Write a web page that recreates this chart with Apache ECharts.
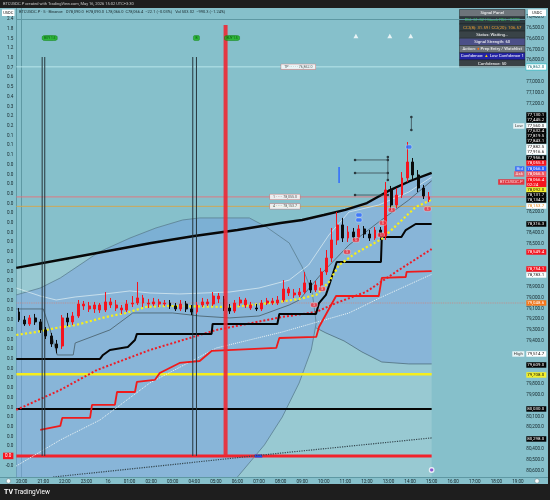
<!DOCTYPE html>
<html>
<head>
<meta charset="utf-8">
<title>BTCUSDC.P 5m</title>
<script src="https://cdn.jsdelivr.net/npm/echarts@6/dist/echarts.min.js"></script>
<style>
  html, body { margin: 0; padding: 0; background: #1e1e1e; }
  #chart { width: 550px; height: 500px; }
</style>
</head>
<body>
<div id="chart"></div>
<script>
// ---------- data: x = hours after 20:00 (15th), y = price in USDC ----------
const hourLabels = ['20:00', '21:00', '22:00', '23:00', '16', '01:00', '02:00', '03:00', '04:00', '05:00',
  '06:00', '07:00', '08:00', '09:00', '10:00', '11:00', '12:00', '13:00', '14:00', '15:00',
  '16:00', '17:00', '18:00', '19:00']

// 15 minute candles, first one centred at 19:52 -> [open, close, low, high]
const candleStart = -0.125
const candleStep = 0.25
const candles = [
  [79132, 79206, 79095, 79224], [79206, 79243, 79169, 79261], [79243, 79187, 79160, 79261], [79187, 79224, 79150, 79252],
  [79224, 79298, 79197, 79326], [79298, 79354, 79271, 79382], [79354, 79428, 79326, 79456], [79428, 79465, 79391, 79515],
  [79447, 79187, 79160, 79474], [79187, 79224, 79141, 79261], [79224, 79169, 79132, 79252], [79169, 79058, 79021, 79187],
  [79076, 79058, 79030, 79113], [79104, 79076, 79039, 79132], [79104, 79067, 79039, 79141], [79113, 79067, 79049, 79141],
  [79113, 79039, 78947, 79132], [79067, 79039, 79002, 79095], [79095, 79067, 79021, 79123], [79113, 79095, 79067, 79150],
  [79113, 79058, 79021, 79132], [79058, 79049, 78984, 79086], [79049, 79002, 78854, 79067], [79049, 79002, 78974, 79086],
  [79058, 79049, 79011, 79095], [79058, 79039, 79002, 79076], [79058, 79039, 79011, 79086], [79058, 79049, 79021, 79076],
  [79049, 79076, 79021, 79104], [79076, 79104, 79049, 79123], [79104, 79058, 79021, 79123], [79058, 79104, 79030, 79132],
  [79104, 79132, 79067, 79160], [79132, 79067, 79039, 79150], [79067, 79039, 79002, 79086], [79058, 79039, 79011, 79076],
  [79058, 78984, 78947, 79076], [79011, 78984, 78956, 79049], [79011, 79095, 78984, 79123], [79095, 79123, 79058, 79150],
  [79123, 79049, 79021, 79141], [79049, 79021, 78993, 79076], [79067, 79021, 79002, 79095], [79095, 79067, 79039, 79113],
  [79095, 79104, 79058, 79123], [79104, 79049, 79021, 79123], [79049, 79030, 79002, 79067], [79049, 79030, 79002, 79067],
  [79049, 79021, 78984, 79067], [79021, 78919, 78836, 79039], [78956, 78919, 78900, 78984], [78974, 78956, 78919, 79002],
  [78974, 78947, 78910, 78993], [78947, 78863, 78761, 78965], [78863, 78928, 78836, 78956], [78928, 78882, 78845, 78947],
  [78882, 78761, 78724, 78900], [78761, 78632, 78558, 78789], [78632, 78465, 78354, 78669], [78465, 78326, 78206, 78511],
  [78326, 78447, 78261, 78484], [78447, 78391, 78336, 78484], [78391, 78437, 78354, 78465], [78437, 78363, 78326, 78465],
  [78363, 78410, 78336, 78447], [78410, 78447, 78373, 78474], [78447, 78373, 78345, 78465], [78373, 78428, 78345, 78465],
  [78428, 78002, 77928, 78465], [78002, 78141, 77965, 78187], [78141, 78049, 77984, 78169], [78049, 77891, 77836, 78076],
  [77891, 77743, 77558, 77928], [77743, 77863, 77706, 77910], [77863, 77984, 77817, 78021], [77984, 78058, 77956, 78086],
  [78090, 78066, 78021, 78113]
]

const trendCurve = [[-0.25, 78724], [2, 78641], [4, 78567], [6, 78493], [8, 78428], [10, 78373], [12, 78308],
  [13, 78280], [14, 78234], [15, 78187], [16, 78123], [17, 78011], [18, 77919], [19, 77843]]
const supportStep = [[-0.25, 79567], [3.63, 79567], [3.77, 79530], [4.09, 79484], [4.92, 79456], [5.25, 79391],
  [5.34, 79335], [8.8, 79335], [8.85, 79243], [11.85, 79243], [11.94, 79150], [13.64, 79150], [13.78, 79049],
  [14.1, 78974], [14.24, 78891], [14.6, 78669], [16.65, 78669], [16.69, 78437], [17.6, 78437], [17.8, 78373],
  [18.26, 78317], [19, 78317]]
const redStep = [[0.86, 80224], [1.79, 80187], [1.88, 80113], [3.17, 80113], [3.26, 79993], [4.32, 79993],
  [4.42, 79873], [5.25, 79873], [5.34, 79780], [6.17, 79761], [6.4, 79697], [6.86, 79650], [7.32, 79604],
  [8.25, 79586], [8.8, 79493], [11.8, 79465], [11.94, 79373], [13.65, 79363], [13.78, 79271], [14.57, 78984],
  [16.55, 78984], [16.69, 78817], [17.8, 78808], [17.84, 78761], [19, 78754]]
const redDotted = [[-0.25, 80039], [1.79, 79854], [3.49, 79669], [5.94, 79484], [9.03, 79298], [12.08, 79178],
  [13.65, 79132], [14.57, 79049], [15.95, 78947], [17.48, 78743], [19, 78549]]
const whiteDotted = [[-0.25, 80558], [1.79, 80317], [3.63, 80132], [5.94, 79789], [9.03, 79465], [12.08, 79317],
  [15.17, 79141], [16.69, 78993], [19, 78783]]
const darkDotted = [[1.46, 80660], [5.94, 80567], [12.08, 80437], [19, 80298]]
const yellowMA = [[-0.25, 79345], [0.68, 79317], [1.6, 79280], [2.52, 79252], [3.91, 79178], [4.83, 79141],
  [5.75, 79086], [6.72, 79076], [9.77, 79086], [11.94, 79039], [12.86, 79011], [13.65, 78974], [14.24, 78854],
  [14.71, 78697], [15.49, 78586], [16.69, 78456], [17.48, 78308], [18.26, 78160], [19, 78092]]
const upperChannel = [[-0.25, 78910], [0.86, 78984], [1.6, 79021], [2.48, 78993], [3.86, 78965], [5.02, 78937],
  [5.94, 78956], [7.32, 78965], [9.63, 78947], [11, 78910], [12.4, 78836], [13.3, 78697], [14.24, 78419],
  [15.17, 78206], [16.55, 78141], [17.94, 78021], [19, 77883]]
const lowerChannel = [[-0.25, 79104], [1, 79104], [1.32, 79298], [1.65, 79530], [2.39, 79530], [2.48, 79419],
  [4.09, 79298], [5.15, 79141], [7, 79141], [8.25, 79169], [9.63, 79187], [11, 79169], [12.4, 79067],
  [12.86, 79021], [13.92, 78771], [15.17, 78511], [16.55, 78298], [17.94, 78095], [19, 77917]]

// envelope "dome" and the band that continues it on the right
const domeEdge = [[-0.25, 78974], [0.86, 78910], [1.79, 78817], [3.59, 78576], [5.02, 78447], [6.22, 78354],
  [7.46, 78280], [8.25, 78261], [10.55, 78261], [11.34, 78345], [12.4, 78493], [13, 78715], [13.47, 78956],
  [13.65, 79234], [13.42, 79484], [12.86, 79789], [12.08, 80104], [11.25, 80363], [10, 80660]]
const bandLower = [[13.65, 79280], [14.1, 79326], [14.94, 79400], [15.77, 79502], [16.69, 79595], [17.94, 79613], [19, 79613]]

// horizontal levels
const yellowLevel = 79708
const blackLevel = 80030
const lastPrice = 78066.4
const orangeLevel = 78153.7
const tealLevel = 76862
const pinkLevel = 79048.6
const oscZeroIndex = 45          // left scale row holding the red 0.0

// vertical event lines [hour, top price]
const eventLines = [[0.95, 76771], [1.07, 76771], [7.93, 76771], [8.1, 76771]]
const redEvent = [9.45, 76474]
const eventBottom = 80465

// markers
const greenTags = [[1.3, 76595, 'BUY 1.5'], [8.1, 76595, 'B'], [9.75, 76595, 'BUY 1.5']]
const whiteTriangles = [[15.49, 76576], [17.06, 76576], [18.03, 76576]]
const redPills = [[13.55, 79067], [13.92, 78919], [15.08, 78576], [15.49, 78465], [16.65, 78419],
  [16.74, 78308], [17.15, 78187], [18.81, 78178]]
const bluePills = [[17.94, 77604], [15.63, 78234], [15.63, 78280]]
const blueWick = [[14.71, 77789], [14.71, 77937]]
const pivotSegments = [
  [[15.45, 77724], [16.97, 77724]],
  [[15.45, 77845], [16.97, 77845]],
  [[16.97, 77697], [16.97, 77910]],
  [[15.45, 78049], [16.97, 78049]],
  [[18.06, 77326], [18.06, 77447]]
]

// left oscillator scale labels (top to bottom)
const leftLabels = ['2.4', '1.8', '1.5', '1.2', '1.0', '0.7', '0.6', '0.5', '0.4', '0.3', '0.2', '0.2', '0.1', '0.1', '0.1']
  .concat(Array(31).fill('0.0'), ['-0.0'])

// right scale
const priceTicks = [76400, 76500, 76600, 76700, 76800, 77000, 77100, 77200, 78200, 78400, 78500, 78900, 79000,
  79100, 79200, 79300, 79400, 79800, 79900, 80100, 80200, 80400, 80500, 80600]
const tagPrices = [76862.0, 77130.1, 77445.2, 77560.0, 77632.4, 77819.5, 77843.1, 77882.5, 77916.6, 77956.8,
  78055.0, 78066.0, 78066.5, 78066.4, 78092.0, 78131.7, 78134.2, 78153.7, 78316.3, 78549.4, 78754.1, 78783.1,
  79048.6, 79514.7, 79609.0, 79708.0, 80030.0, 80298.0]

const legendText = 'BTCUSDC.P · 5 · Binance   O78,090.0  H78,090.0  L78,066.0  C78,066.4  −22.1 (−0.03%)   Vol 503.02  −990.3 (−1.24%)'
const panelRows = ['Signal Panel', 'RSI: 51.52 | Stoch RSI: +0000', 'CCI(8): 31.59 | CCI(20): 106.57', 'Status: Waiting...',
  'Signal Strength: 60', 'Action: {o|●} Prep Entry / Watchlist', 'Confidence: {y|▲} Low Confidence 1', 'Confidence: 50']

// ---------- layout & styles ----------
const priceMin = 76317, priceMax = 80660
const xMin = -0.245, xMax = 23.34
const leftMin = -1.133, leftMax = 47.17
// where stacked price tags sit on the right scale (tags are shifted to avoid overlap)
const tagSlots = [76863.4, 77307.8, 77354.1, 77409.6, 77455.9, 77502.2, 77548.5, 77604.1, 77650.4, 77705.9,
  77752.2, 77807.8, 77854.1, 77928.1, 78002.2, 78048.5, 78094.8, 78150.4, 78317.0, 78576.3, 78733.7, 78789.2,
  79048.5, 79520.7, 79622.5, 79715.1, 80029.9, 80307.7]
const tagStyle = ['tl', 'bk', 'bk', 'wh', 'bk', 'bk', 'bk', 'wh', 'wh', 'bk', 'rd', 'bl', 'rl', 'cur', 'ye', 'bk', 'bk',
  'wo', 'bk', 'rd', 'rd', 'wh', 'or', 'wh', 'bk', 'ye', 'bk', 'bk']
const tagPrefixes = [[77409.6, 'Low', 'wh'], [77807.8, 'Bid', 'bl'], [77854.1, 'Ask', 'rl'], [77928.1, 'BTCUSDC.P', 'rd'], [79520.7, 'High', 'wh']]
const panelColors = [['#6d747a', '#ffffff'], ['#2e3b40', '#3ad35f'], ['#2e3b40', '#f0a030'], ['#394347', '#ffffff'],
  ['#4c5088', '#ffffff'], ['#6d747a', '#ffffff'], ['#2323a6', '#ffffff'], ['#3a4145', '#ffffff']]
const greenTagWidth = [15, 6, 15]

const FONT = 'Roboto, "Noto Sans", sans-serif'
const TEAL = '#86c0cb'
const AXIS = '#5e98a3'
const INK = '#17262b'

const fmt = v => v.toLocaleString('en-US', { minimumFractionDigits: 1, maximumFractionDigits: 1 })
const tagRich = (bg, fg, extra) => Object.assign({ backgroundColor: bg, color: fg, width: 18, padding: [1, 1, 0.5, 1], fontSize: 4.4, fontFamily: FONT, lineHeight: 5 }, extra || {})
const rich = {
  bk: tagRich('#050505', '#ffffff'),
  wh: tagRich('#ffffff', '#111111'),
  rd: tagRich('#f7141f', '#ffffff'),
  rl: tagRich('#f2545e', '#ffffff'),
  bl: tagRich('#2a5bff', '#ffffff'),
  ye: tagRich('#f4ef2a', '#111111'),
  or: tagRich('#f5761a', '#ffffff'),
  wo: tagRich('#ffffff', '#e8891a'),
  tl: tagRich('#ffffff', '#1b6f78', { borderColor: '#3fc0c9', borderWidth: 0.7 }),
  cur: tagRich('#f7141f', '#ffffff', { lineHeight: 4.6 })
}

function lineSeries(data, color, width, type, z, extra) {
  return Object.assign({
    type: 'line', data, symbol: 'none', silent: true, z,
    lineStyle: { color, width, type: type || 'solid' }
  }, extra || {})
}
function polygonSeries(points, fill, z) {
  return {
    type: 'custom', silent: true, z, clip: true,
    data: [points[0]],
    renderItem: (params, api) => ({
      type: 'polygon',
      shape: { points: points.map(pt => api.coord(pt)) },
      style: { fill }
    })
  }
}

const below = trendCurve.concat([[19, priceMax], [-0.25, priceMax]])
const blueArea = [[-0.25, priceMax]].concat(domeEdge.slice(0, 10), trendCurve.slice(6),
  bandLower.slice().reverse(), domeEdge.slice(14))

const series = [
  polygonSeries(below, 'rgba(255,255,255,0.15)', 1),
  polygonSeries(blueArea, 'rgba(108,146,226,0.36)', 1),
  lineSeries(domeEdge, '#5b7f90', 0.8, 'solid', 2),
  lineSeries(bandLower, '#4f6f7c', 0.8, 'solid', 2),
  // full width levels
  lineSeries([[xMin, tealLevel], [xMax, tealLevel]], '#b7e6ea', 1, 'solid', 2),
  lineSeries([[xMin, lastPrice], [xMax, lastPrice]], '#e87178', 0.9, 'solid', 2),
  lineSeries([[xMin, orangeLevel], [xMax, orangeLevel]], '#d6a64b', 0.9, 'solid', 2),
  lineSeries([[xMin, pinkLevel], [xMax, pinkLevel]], '#c98a86', 0.9, 'dotted', 2),
  // levels up to the last bar
  lineSeries([[xMin, yellowLevel], [19, yellowLevel]], '#f6ee1c', 2.6, 'solid', 3),
  lineSeries([[xMin, blackLevel], [19, blackLevel]], '#050505', 2, 'solid', 3),
  lineSeries([[xMin, oscZeroIndex], [19, oscZeroIndex]], '#f2222c', 3, 'solid', 3, { yAxisIndex: 1 }),
  lineSeries([[10.8, oscZeroIndex], [11.15, oscZeroIndex]], '#2345e8', 3, 'solid', 3, { yAxisIndex: 1 }),
  // channel & trend lines
  lineSeries(upperChannel, 'rgba(235,245,245,0.8)', 0.8, 'solid', 3),
  lineSeries(lowerChannel, '#4e6773', 0.9, 'solid', 3),
  lineSeries(darkDotted, '#34474f', 1.2, 'dotted', 3),
  lineSeries(whiteDotted, '#eef6f6', 1, 'dotted', 3),
  lineSeries(redDotted, '#ee1c25', 2, 'dotted', 4),
  lineSeries(redStep, '#f01a1a', 1.8, 'solid', 4),
  lineSeries(supportStep, '#050505', 2, 'solid', 4),
  lineSeries(trendCurve, '#080808', 2.4, 'solid', 4),
  lineSeries(yellowMA, '#f6ee1c', 2.2, 'dotted', 4),
  // vertical events
  ...eventLines.map(e => lineSeries([[e[0], e[1]], [e[0], eventBottom]], '#26363c', 1, 'solid', 4)),
  lineSeries([[redEvent[0], redEvent[1]], [redEvent[0], eventBottom]], 'rgba(238,40,52,0.9)', 4, 'solid', 6),
  // candles
  {
    type: 'candlestick', z: 5, silent: true, barWidth: 2.4,
    data: candles.map((c, i) => [candleStart + i * candleStep, c[0], c[1], c[2], c[3]]),
    encode: { x: 0, y: [1, 2, 3, 4] },
    itemStyle: { color: '#0b0b0b', color0: '#f5141e', borderColor: '#0b0b0b', borderColor0: '#f5141e', borderWidth: 1 }
  },
  // pivots
  ...pivotSegments.map(s => lineSeries(s, '#3a4a50', 0.8, 'solid', 5, {
    symbol: 'circle', symbolSize: 2.6, showSymbol: true, itemStyle: { color: '#2b3a40' }
  })),
  lineSeries(blueWick, '#2f6bff', 1.5, 'solid', 6),
  {
    type: 'scatter', z: 7, silent: true,
    data: greenTags.map(g => ({ value: [g[0], g[1]], name: g[2] })),
    symbol: 'roundRect',
    symbolSize: (v, p) => [greenTagWidth[p.dataIndex], 5],
    itemStyle: { color: '#18b418', borderColor: '#0d7a0d', borderWidth: 0.5 },
    label: { show: true, position: 'inside', formatter: p => p.name, fontSize: 3.2, color: '#043b04', fontFamily: FONT }
  },
  {
    type: 'scatter', z: 7, silent: true, data: whiteTriangles, symbol: 'triangle', symbolSize: [5, 4.5],
    itemStyle: { color: '#ffffff' }
  },
  {
    type: 'scatter', z: 7, silent: true, data: redPills, symbol: 'roundRect', symbolSize: [7, 4.5],
    itemStyle: { color: '#f2303b', borderColor: '#ffffff', borderWidth: 0.4 },
    label: { show: true, position: 'inside', formatter: 'S', fontSize: 3, color: '#ffffff', fontFamily: FONT }
  },
  {
    type: 'scatter', z: 7, silent: true, data: bluePills, symbol: 'roundRect', symbolSize: [6, 4],
    itemStyle: { color: '#2f6bff', borderColor: '#ffffff', borderWidth: 0.4 }
  },
  {
    type: 'scatter', z: 7, silent: true, data: [[19, 80595]], symbol: 'circle', symbolSize: 4.5,
    itemStyle: { color: '#8a3fd1', borderColor: '#ffffff', borderWidth: 1.3 }
  },
  // in-chart level boxes
  {
    type: 'scatter', z: 7, silent: true, symbolSize: 0,
    data: [
      { value: [12.82, tealLevel], name: 'TP · · · · · ' + fmt(tealLevel) },
      { value: [12.2, lastPrice], name: '1 · · · · ' + fmt(78055.0) },
      { value: [12.2, orangeLevel], name: '4 · · · · ' + fmt(orangeLevel) }
    ],
    label: {
      show: true, position: 'inside', formatter: p => p.name, fontSize: 3.6, fontFamily: FONT, color: '#333',
      backgroundColor: '#ffffff', borderColor: '#c97070', borderWidth: 0.5, padding: [0.5, 3]
    }
  },
  // prefixes of the right scale tags
  {
    type: 'scatter', z: 8, silent: true, symbolSize: 0,
    data: tagPrefixes.map(t => ({ value: [xMax - 0.02, t[0]], name: t[1], st: t[2] })),
    label: {
      show: true, position: 'left', distance: 0.5, fontFamily: FONT,
      formatter: p => '{' + p.data.st + '|' + p.name + '}',
      rich: {
        wh: { backgroundColor: '#ffffff', color: '#111', fontSize: 4.4, padding: [1, 1.5, 0.5, 1.5] },
        bl: { backgroundColor: '#2a5bff', color: '#fff', fontSize: 4.4, padding: [1, 1.5, 0.5, 1.5] },
        rl: { backgroundColor: '#f2545e', color: '#fff', fontSize: 4.4, padding: [1, 1.5, 0.5, 1.5] },
        rd: { backgroundColor: '#f7141f', color: '#fff', fontSize: 4.4, padding: [1, 1.5, 0.5, 1.5] }
      }
    }
  }
]

// signal panel
const panel = []
const rowH = 7.2
panelRows.forEach((t, i) => {
  panel.push({ type: 'rect', shape: { x: 459.5, y: 9.5 + i * rowH, width: 65.5, height: rowH }, style: { fill: panelColors[i][0], stroke: '#202427', lineWidth: 0.5 } })
  panel.push({
    type: 'text', x: 492.25, y: 9.5 + i * rowH + rowH / 2,
    style: {
      text: t, fill: panelColors[i][1], fontSize: 4.3, fontFamily: FONT, align: 'center', verticalAlign: 'middle',
      rich: { o: { fill: '#ff6a13', fontSize: 4.3 }, y: { fill: '#ffd400', fontSize: 4.3 } }
    }
  })
})

const option = {
  animation: false,
  backgroundColor: TEAL,
  textStyle: { fontFamily: FONT },
  grid: { left: 16, right: 23, top: 8, bottom: 23, show: false },
  xAxis: {
    type: 'value', min: xMin, max: xMax,
    axisLine: { show: true, lineStyle: { color: AXIS, width: 1 } },
    axisTick: { show: false }, splitLine: { show: false },
    axisLabel: {
      customValues: hourLabels.map((_, i) => i), formatter: v => hourLabels[v],
      fontSize: 4.6, color: INK, margin: 2.5, fontFamily: FONT
    }
  },
  yAxis: [
    {
      type: 'value', position: 'right', inverse: true, min: priceMin, max: priceMax,
      axisLine: { show: true, lineStyle: { color: AXIS, width: 1 } },
      axisTick: { show: false }, splitLine: { show: false },
      axisLabel: {
        customValues: priceTicks.concat(tagSlots), margin: 1, fontSize: 4.6, color: INK, fontFamily: FONT, rich,
        formatter: v => {
          const i = tagSlots.findIndex(s => Math.abs(s - v) < 0.05)
          if (i < 0) return fmt(v)
          if (tagStyle[i] === 'cur') return '{cur|' + fmt(tagPrices[i]) + '}\n{cur|02:24}'
          return '{' + tagStyle[i] + '|' + fmt(tagPrices[i]) + '}'
        }
      }
    },
    {
      type: 'value', position: 'left', inverse: true, min: leftMin, max: leftMax,
      axisLine: { show: true, lineStyle: { color: AXIS, width: 1 } },
      axisTick: { show: false }, splitLine: { show: false },
      axisLabel: {
        customValues: leftLabels.map((_, i) => i), margin: 3, fontSize: 4.6, color: INK, fontFamily: FONT,
        formatter: v => v === oscZeroIndex ? '{z|' + leftLabels[v] + '}' : leftLabels[v],
        rich: { z: { backgroundColor: '#f7141f', color: '#fff', fontSize: 4.6, padding: [1, 2, 0.5, 2] } }
      }
    }
  ],
  series,
  graphic: [
    { type: 'rect', z: 100, shape: { x: 0, y: 0, width: 550, height: 8 }, style: { fill: '#1e1e1e' } },
    { type: 'rect', z: 100, shape: { x: 0, y: 484, width: 550, height: 16 }, style: { fill: '#1e1e1e' } },
    { type: 'rect', z: 100, shape: { x: 548, y: 0, width: 2, height: 500 }, style: { fill: '#1e1e1e' } },
    { type: 'text', z: 101, x: 3, y: 4, style: { text: 'BTCUSDC.P created with TradingView.com, May 16, 2026 15:02 UTC+3:30', fill: '#c8c8c8', fontSize: 4, fontFamily: FONT, verticalAlign: 'middle' } },
    { type: 'text', z: 101, x: 19, y: 12, style: { text: legendText, fill: '#1c2c31', fontSize: 4, fontFamily: FONT, verticalAlign: 'middle' } },
    { type: 'line', z: 101, shape: { x1: 0, y1: 477.5, x2: 548, y2: 477.5 }, style: { stroke: AXIS, lineWidth: 1 } },
    { type: 'rect', z: 101, shape: { x: 2, y: 9.5, width: 12.5, height: 6.5 }, style: { fill: '#ffffff' } },
    { type: 'text', z: 102, x: 8.25, y: 12.8, style: { text: 'USDC', fill: '#111', fontSize: 4, fontFamily: FONT, align: 'center', verticalAlign: 'middle' } },
    { type: 'rect', z: 101, shape: { x: 528, y: 9.5, width: 18, height: 6.5 }, style: { fill: '#ffffff' } },
    { type: 'text', z: 102, x: 537, y: 12.8, style: { text: 'USDC', fill: '#111', fontSize: 4, fontFamily: FONT, align: 'center', verticalAlign: 'middle' } },
    { type: 'circle', z: 101, shape: { cx: 8.5, cy: 481, r: 2.3 }, style: { fill: '#ffffff', stroke: '#6a8a90', lineWidth: 0.6 } },
    { type: 'circle', z: 101, shape: { cx: 537, cy: 481, r: 2.3 }, style: { fill: '#ffffff', stroke: '#6a8a90', lineWidth: 0.6 } },
    { type: 'text', z: 101, x: 4, y: 492, style: { text: 'TV', fill: '#ffffff', fontSize: 7, fontWeight: 'bold', fontFamily: FONT, verticalAlign: 'middle' } },
    { type: 'text', z: 101, x: 14, y: 492, style: { text: 'TradingView', fill: '#ffffff', fontSize: 6.5, fontFamily: FONT, verticalAlign: 'middle' } },
    { type: 'group', z: 110, children: panel }
  ]
}

const chart = echarts.init(document.getElementById('chart'))
chart.setOption(option)
window.addEventListener('resize', () => chart.resize())
</script>
</body>
</html>
